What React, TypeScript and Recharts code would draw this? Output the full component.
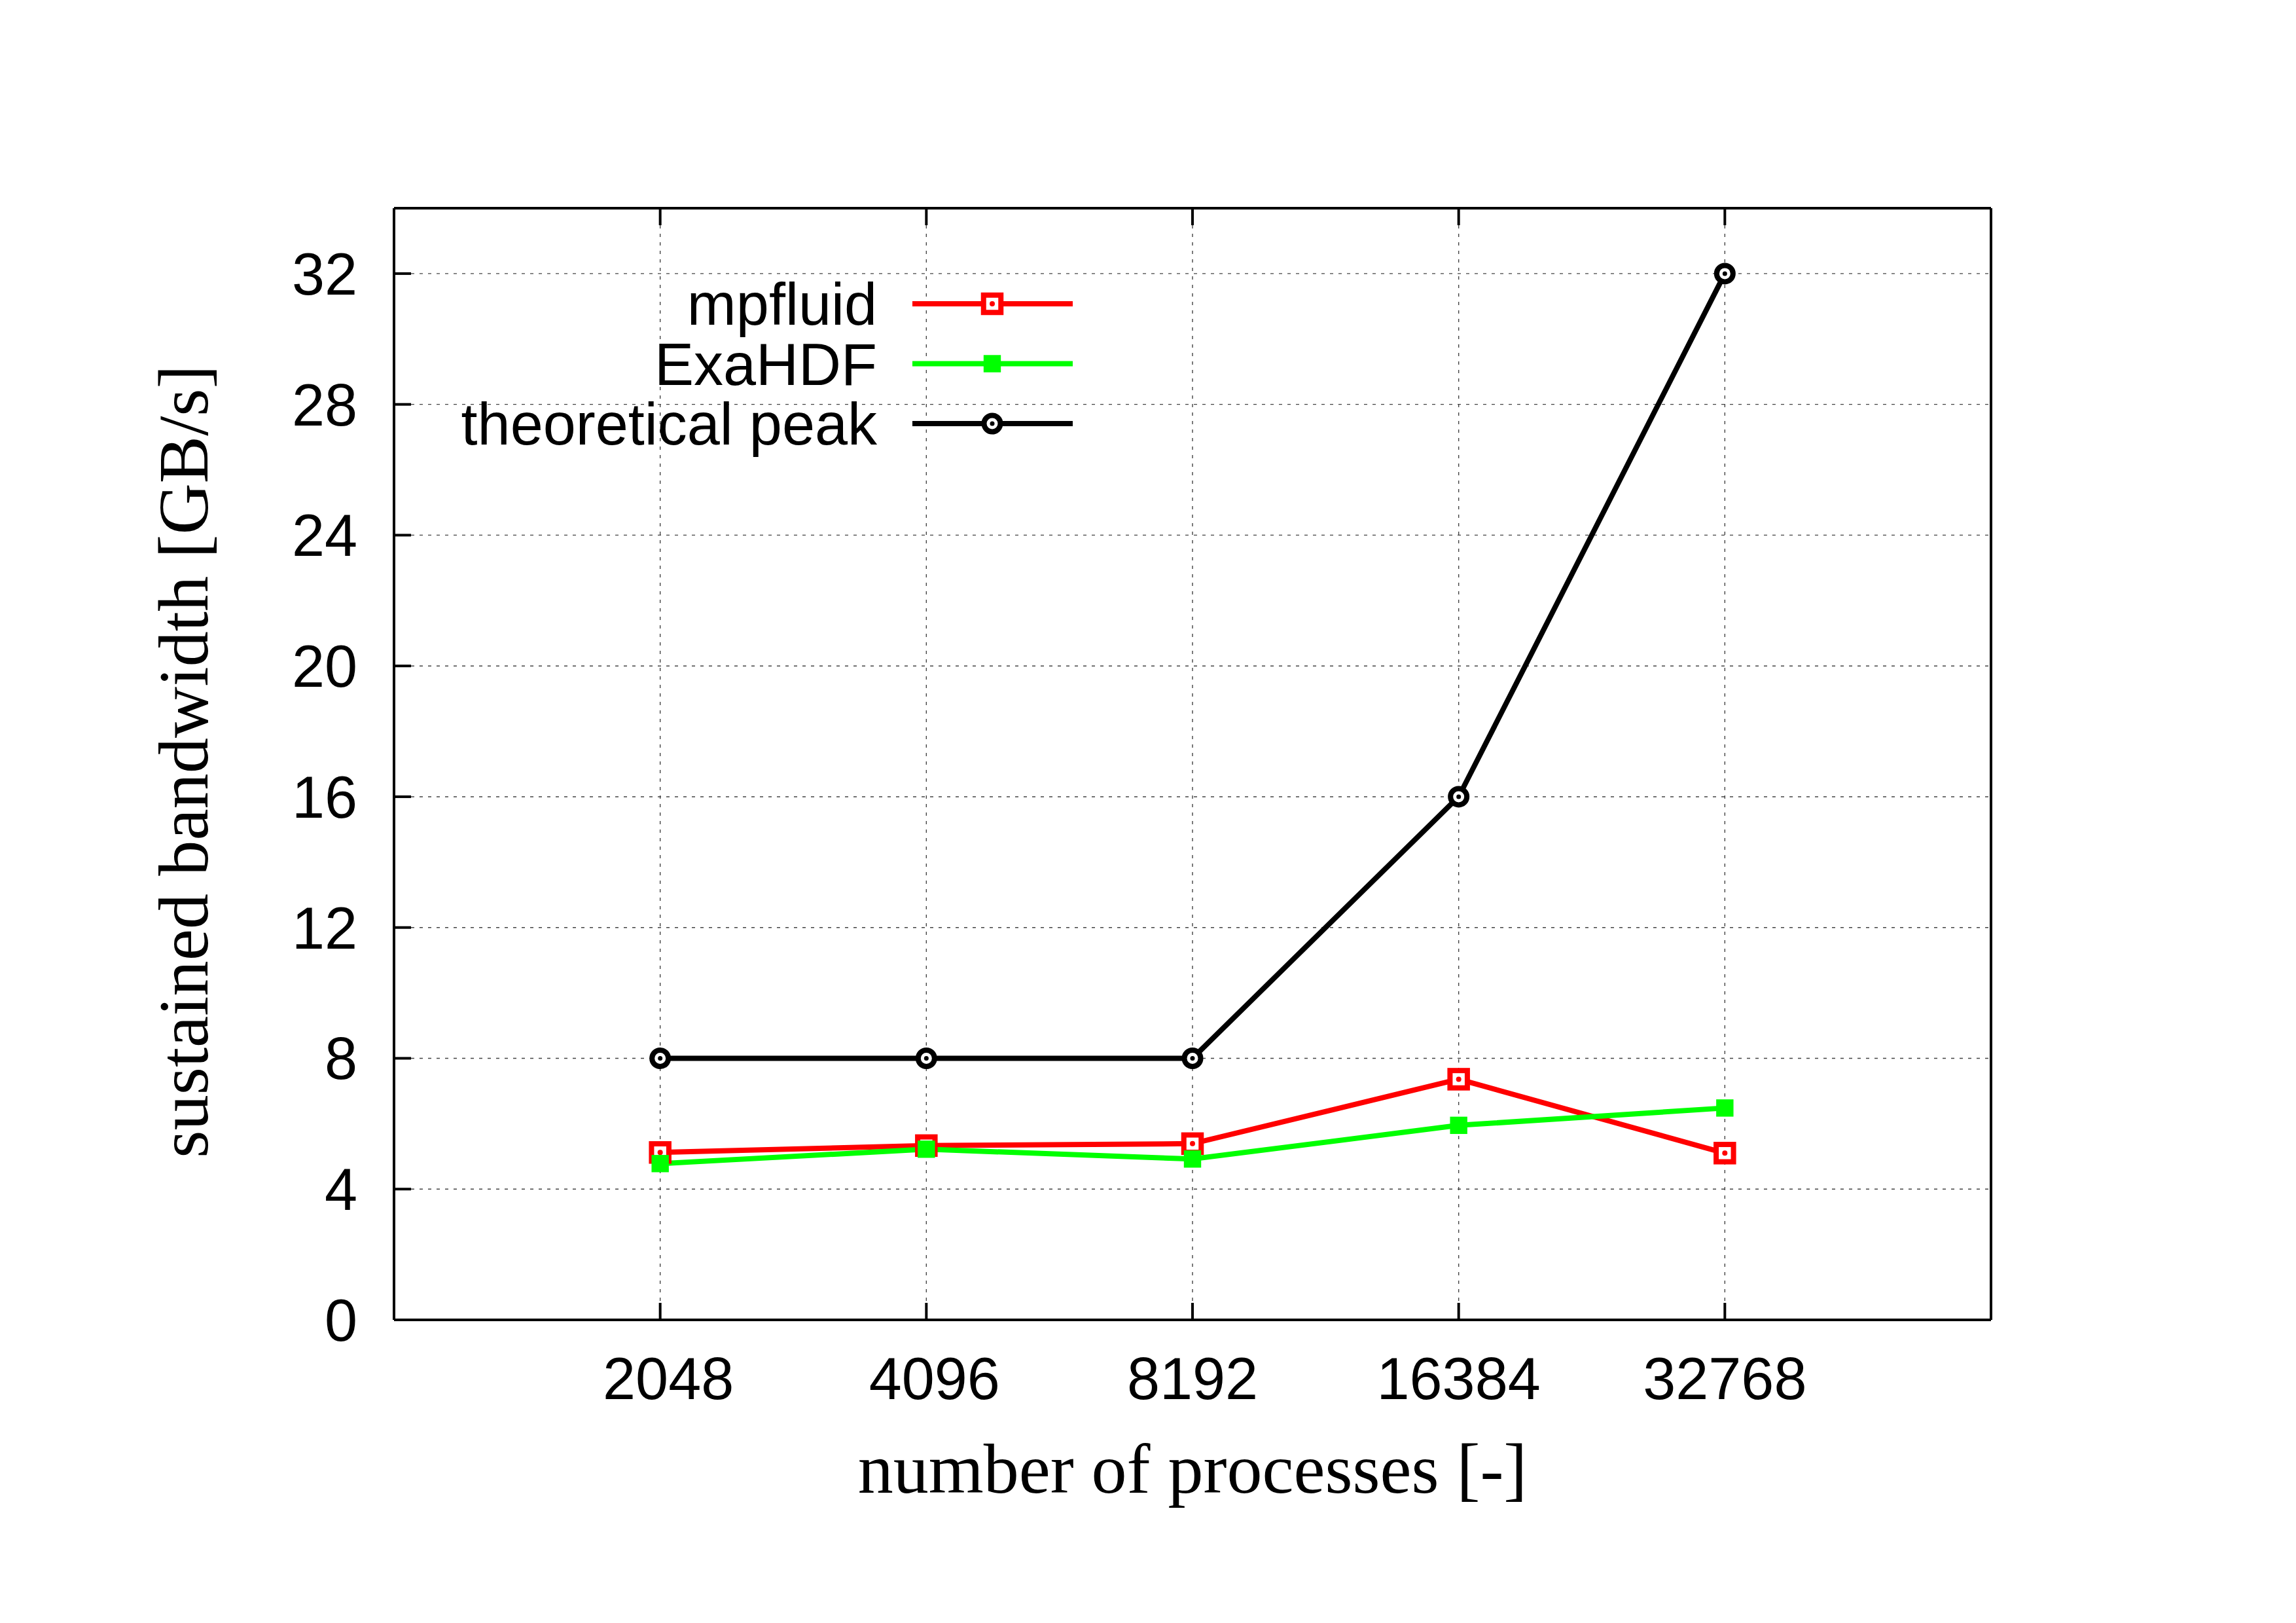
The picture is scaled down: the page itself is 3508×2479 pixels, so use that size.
import React from 'react';
import { LineChart, Line, XAxis, YAxis, CartesianGrid, Legend } from 'recharts';

const CATEGORIES = [' 2048', ' 4096', '8192', '16384', '32768'];
const X_POS = [1, 2, 3, 4, 5];
const MPFLUID = [5.12, 5.33, 5.39, 7.36, 5.1];
const EXAHDF = [4.78, 5.22, 4.92, 5.95, 6.48];
const PEAK = [8, 8, 8, 16, 32];
const Y_TICKS = [0, 4, 8, 12, 16, 20, 24, 28, 32];
const SERIES_NAMES = ['mpfluid', 'ExaHDF', 'theoretical peak'];

const data = CATEGORIES.map((c, i) => ({
  x: X_POS[i],
  label: c,
  mpfluid: MPFLUID[i],
  exahdf: EXAHDF[i],
  peak: PEAK[i],
}));

const W = 3508;
const H = 2479;
const SANS = "'Liberation Sans', Arial, Helvetica, sans-serif";
const SERIF = "'Liberation Serif', 'Times New Roman', Times, serif";
const TICK_FONT = 90;
const TITLE_FONT = 108.5;
const TICK_LEN = 26;
const RED = '#ff0000';
const GREEN = '#00ff00';
const BLACK = '#000000';

const OpenSquare = ({ cx, cy }: any) => (
  <g>
    <rect x={cx - 13.25} y={cy - 13.25} width={26.5} height={26.5} fill="#fff" stroke={RED} strokeWidth={8} />
    <circle cx={cx} cy={cy} r={4} fill={RED} />
  </g>
);
const FilledSquare = ({ cx, cy }: any) => (
  <rect x={cx - 13.2} y={cy - 13.2} width={26.4} height={26.4} fill={GREEN} />
);
const OpenCircle = ({ cx, cy }: any) => (
  <g>
    <circle cx={cx} cy={cy} r={12.5} fill="#fff" stroke={BLACK} strokeWidth={8} />
    <circle cx={cx} cy={cy} r={3.5} fill={BLACK} />
  </g>
);

const markerFor = (key: string, cx: number, cy: number) => {
  if (key === 'mpfluid') return <OpenSquare cx={cx} cy={cy} />;
  if (key === 'exahdf') return <FilledSquare cx={cx} cy={cy} />;
  return <OpenCircle cx={cx} cy={cy} />;
};

const dotRenderer = (key: string) => (p: any) => {
  if (p.cx == null || p.cy == null) return <g key={`${key}-${p.index}`} />;
  return <g key={`${key}-${p.index}`}>{markerFor(key, p.cx, p.cy)}</g>;
};

const BottomTick = (props: any) => {
  const { x, y, payload } = props;
  const idx = X_POS.indexOf(payload.value);
  const label = idx >= 0 ? CATEGORIES[idx] : '';
  return (
    <g>
      <line x1={x} x2={x} y1={y} y2={y - TICK_LEN} stroke={BLACK} strokeWidth={4} />
      <text
        x={x}
        y={y + 121}
        textAnchor="middle"
        fontFamily={SANS}
        fontSize={TICK_FONT}
        fill={BLACK}
        xmlSpace="preserve"
        style={{ whiteSpace: 'pre' }}
      >
        {label}
      </text>
    </g>
  );
};

const TopTick = (props: any) => {
  const { x, y } = props;
  return <line x1={x} x2={x} y1={y} y2={y + TICK_LEN} stroke={BLACK} strokeWidth={4} />;
};

const LeftTick = (props: any) => {
  const { x, y, payload } = props;
  return (
    <g>
      <line x1={x} x2={x + TICK_LEN} y1={y} y2={y} stroke={BLACK} strokeWidth={4} />
      <text x={x - 56} y={y + 32} textAnchor="end" fontFamily={SANS} fontSize={TICK_FONT} fill={BLACK}>
        {payload.value}
      </text>
    </g>
  );
};

const RightTick = (props: any) => {
  const { x, y } = props;
  return <line x1={x} x2={x - TICK_LEN} y1={y} y2={y} stroke={BLACK} strokeWidth={4} />;
};

const YTitle = (props: any) => {
  const vb = props.viewBox || { x: 502, y: 318, width: 100, height: 1698 };
  const x = vb.x + vb.width - 285;
  const y = vb.y + vb.height / 2 - 4;
  return (
    <text
      x={x}
      y={y}
      transform={`rotate(-90, ${x}, ${y})`}
      textAnchor="middle"
      fontFamily={SERIF}
      fontSize={TITLE_FONT}
      fill={BLACK}
    >
      sustained bandwidth [GB/s]
    </text>
  );
};

const XTitle = (props: any) => {
  const vb = props.viewBox || { x: 602, y: 2016, width: 2440, height: 100 };
  return (
    <text x={vb.x + vb.width / 2} y={vb.y + 264} textAnchor="middle" fontFamily={SERIF} fontSize={108} fill={BLACK}>
      number of processes [-]
    </text>
  );
};

const renderLegend = (props: any) => {
  const payload: any[] = props.payload || [];
  const items = SERIES_NAMES.map((n) => payload.find((p) => p.value === n)).filter(Boolean);
  return (
    <svg width={W} height={760} style={{ display: 'block', overflow: 'visible' }}>
      {items.map((it: any, i: number) => {
        const cy = 464 + i * 91.5;
        return (
          <g key={it.value}>
            <text x={1340} y={cy + 32} textAnchor="end" fontFamily={SANS} fontSize={TICK_FONT} fill={BLACK}>
              {it.value}
            </text>
            <line x1={1394} x2={1639} y1={cy} y2={cy} stroke={it.color} strokeWidth={8} />
            {markerFor(it.dataKey, 1516, cy)}
          </g>
        );
      })}
    </svg>
  );
};

export default function App() {
  return (
    <div style={{ position: 'absolute', left: 0, top: 0, width: W, height: H, background: '#fff' }}>
      <LineChart
        width={W}
        height={H}
        data={data}
        margin={{ top: 268, right: 416, bottom: 363, left: 502 }}
      >
        <CartesianGrid stroke="#444" strokeWidth={1.4} strokeDasharray="5 8" />
        <XAxis
          xAxisId={0}
          dataKey="x"
          type="number"
          domain={[0, 6]}
          ticks={X_POS}
          orientation="bottom"
          height={100}
          tickSize={0}
          tickMargin={0}
          tickLine={false}
          axisLine={{ stroke: BLACK, strokeWidth: 4 }}
          tick={<BottomTick />}
          interval={0}
          label={{ content: <XTitle /> }}
        />
        <XAxis
          xAxisId="top"
          dataKey="x"
          type="number"
          domain={[0, 6]}
          ticks={X_POS}
          orientation="top"
          height={50}
          tickSize={0}
          tickMargin={0}
          tickLine={false}
          axisLine={{ stroke: BLACK, strokeWidth: 4 }}
          tick={<TopTick />}
          interval={0}
        />
        <YAxis
          yAxisId={0}
          type="number"
          domain={[0, 34]}
          ticks={Y_TICKS}
          orientation="left"
          width={100}
          tickSize={0}
          tickMargin={0}
          tickLine={false}
          axisLine={{ stroke: BLACK, strokeWidth: 4 }}
          tick={<LeftTick />}
          interval={0}
          label={{ content: <YTitle /> }}
        />
        <YAxis
          yAxisId="right"
          type="number"
          domain={[0, 34]}
          ticks={Y_TICKS}
          orientation="right"
          width={50}
          tickSize={0}
          tickMargin={0}
          tickLine={false}
          axisLine={{ stroke: BLACK, strokeWidth: 4 }}
          tick={<RightTick />}
          interval={0}
        />
        <Legend
          verticalAlign="middle"
          align="center"
          layout="horizontal"
          content={renderLegend}
          wrapperStyle={{ position: 'absolute', left: 0, top: 0, width: W, height: 760, pointerEvents: 'none' }}
        />
        <Line
          xAxisId={0}
          yAxisId={0}
          type="linear"
          dataKey="mpfluid"
          name="mpfluid"
          stroke={RED}
          strokeWidth={8}
          dot={dotRenderer('mpfluid')}
          activeDot={false}
          isAnimationActive={false}
        />
        <Line
          xAxisId={0}
          yAxisId={0}
          type="linear"
          dataKey="exahdf"
          name="ExaHDF"
          stroke={GREEN}
          strokeWidth={8}
          dot={dotRenderer('exahdf')}
          activeDot={false}
          isAnimationActive={false}
        />
        <Line
          xAxisId={0}
          yAxisId={0}
          type="linear"
          dataKey="peak"
          name="theoretical peak"
          stroke={BLACK}
          strokeWidth={8}
          dot={dotRenderer('peak')}
          activeDot={false}
          isAnimationActive={false}
        />
      </LineChart>
    </div>
  );
}
